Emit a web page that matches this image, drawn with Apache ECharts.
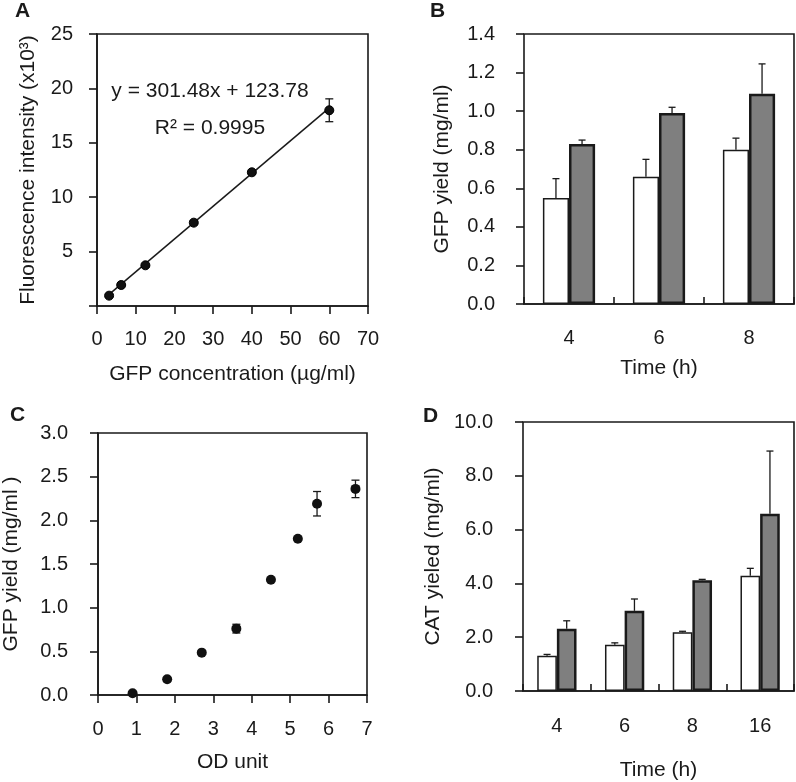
<!DOCTYPE html>
<html>
<head>
<meta charset="utf-8">
<script src="https://cdn.jsdelivr.net/npm/echarts@6/dist/echarts.min.js"></script>
<style>
html,body{margin:0;padding:0;background:#fff;}
#chart{width:796px;height:782px;}
</style>
</head>
<body>
<div id="chart"></div>
<script>
// ---- Panel A: standard curve ----
const A_x = [3.125, 6.25, 12.5, 25, 40, 60];
const A_y = [0.95, 1.93, 3.74, 7.66, 12.29, 17.99];
const A_err = [0.15, 0.15, 0.15, 0.2, 0.2, 1.05];
const A_fitX = [3.125, 60];
const A_fitY = [1.07, 18.21];
const A_xTicks = [0, 10, 20, 30, 40, 50, 60, 70];
const A_yTicks = [0, 5, 10, 15, 20, 25];
const A_eq = 'y = 301.48x + 123.78';
const A_r2 = 'R² = 0.9995';

// ---- Panel B: GFP yield vs time ----
const B_cats = ['4', '6', '8'];
const B_white = [0.55, 0.66, 0.80];
const B_whiteErr = [0.10, 0.09, 0.06];
const B_grey = [0.83, 0.99, 1.09];
const B_greyErr = [0.02, 0.03, 0.155];

// ---- Panel C: GFP yield vs OD ----
const C_x = [0.9, 1.8, 2.7, 3.6, 4.5, 5.2, 5.7, 6.7];
const C_y = [0.02, 0.18, 0.485, 0.76, 1.32, 1.79, 2.19, 2.36];
const C_err = [0, 0, 0, 0.05, 0, 0, 0.14, 0.10];

// ---- Panel D: CAT yield vs time ----
const D_cats = ['4', '6', '8', '16'];
const D_white = [1.31, 1.72, 2.18, 4.28];
const D_whiteErr = [0.05, 0.07, 0.04, 0.28];
const D_grey = [2.31, 2.98, 4.12, 6.59];
const D_greyErr = [0.30, 0.44, 0.03, 2.33];

const FONT = "'Liberation Sans', Arial, Helvetica, sans-serif";
const INK = '#1a1a1a';
const GREY = '#7f7f7f';
const LW = 1.6;

function zipXY(xs, ys) { return xs.map((x, i) => [x, ys[i]]); }
function zipErr(xs, ys, es) { return xs.map((x, i) => [x, ys[i], es[i]]); }

function errRenderSym(cap) {
  return function (params, api) {
    const x = api.value(0), y = api.value(1), e = api.value(2);
    if (!e) return null;
    const hi = api.coord([x, y + e]);
    const lo = api.coord([x, y - e]);
    const st = { stroke: INK, lineWidth: 1.3 };
    return { type: 'group', children: [
      { type: 'line', shape: { x1: hi[0], y1: hi[1], x2: lo[0], y2: lo[1] }, style: st },
      { type: 'line', shape: { x1: hi[0] - cap, y1: hi[1], x2: hi[0] + cap, y2: hi[1] }, style: st },
      { type: 'line', shape: { x1: lo[0] - cap, y1: lo[1], x2: lo[0] + cap, y2: lo[1] }, style: st }
    ]};
  };
}

function errRenderBar(side, gapRatio, cap) {
  return function (params, api) {
    const i = api.value(0), y = api.value(1), e = api.value(2);
    const c = api.coord([i, y]);
    const hi = api.coord([i, y + e]);
    const band = api.size([1, 0])[0];
    const bw = band * (1 - gapRatio) / 2;
    const x = c[0] + side * bw / 2;
    const st = { stroke: INK, lineWidth: 1.3 };
    return { type: 'group', children: [
      { type: 'line', shape: { x1: x, y1: c[1], x2: x, y2: hi[1] }, style: st },
      { type: 'line', shape: { x1: x - cap, y1: hi[1], x2: x + cap, y2: hi[1] }, style: st }
    ]};
  };
}

const tickLabel = { color: INK, fontSize: 20, fontFamily: FONT };
const nameStyle = { color: INK, fontSize: 21, fontFamily: FONT };
const axLine = { lineStyle: { color: INK, width: LW } };

function gridBox(left, right, top, bottom) {
  return { left, right, top, bottom, show: true, borderColor: INK, borderWidth: LW, backgroundColor: 'transparent', containLabel: false };
}

const GAP = 0.42;

const option = {
  animation: false,
  backgroundColor: '#fff',
  textStyle: { fontFamily: FONT },
  grid: [
    gridBox(97, 428, 34, 476),
    gridBox(524, 2, 34, 478),
    gridBox(98, 429, 433, 87),
    gridBox(523, 2, 422, 90)
  ],
  xAxis: [
    { gridIndex: 0, type: 'value', min: 0, max: 70, interval: 10,
      name: 'GFP concentration (µg/ml)', nameLocation: 'middle', nameGap: 58, nameTextStyle: nameStyle,
      axisLine: axLine, axisTick: { show: true, length: 8, lineStyle: { color: INK, width: LW } },
      axisLabel: Object.assign({ margin: 23 }, tickLabel), splitLine: { show: false } },
    { gridIndex: 1, type: 'category', data: B_cats,
      name: 'Time (h)', nameLocation: 'middle', nameGap: 54, nameTextStyle: nameStyle,
      axisLine: axLine, axisTick: { show: true, inside: true, length: 7, alignWithLabel: false, lineStyle: { color: INK, width: LW } },
      axisLabel: Object.assign({ margin: 24 }, tickLabel) },
    { gridIndex: 2, type: 'value', min: 0, max: 7, interval: 1,
      name: 'OD unit', nameLocation: 'middle', nameGap: 57, nameTextStyle: nameStyle,
      axisLine: axLine, axisTick: { show: true, length: 8, lineStyle: { color: INK, width: LW } },
      axisLabel: Object.assign({ margin: 24 }, tickLabel), splitLine: { show: false } },
    { gridIndex: 3, type: 'category', data: D_cats,
      name: 'Time (h)', nameLocation: 'middle', nameGap: 69, nameTextStyle: nameStyle,
      axisLine: axLine, axisTick: { show: true, inside: true, length: 7, alignWithLabel: false, lineStyle: { color: INK, width: LW } },
      axisLabel: Object.assign({ margin: 25 }, tickLabel) }
  ],
  yAxis: [
    { gridIndex: 0, type: 'value', min: 0, max: 25, interval: 5,
      name: 'Fluorescence intensity (x10³)', nameLocation: 'middle', nameGap: 58, nameTextStyle: nameStyle,
      axisLine: axLine, axisTick: { show: true, length: 8, lineStyle: { color: INK, width: LW } },
      axisLabel: Object.assign({ margin: 24, formatter: v => v === 0 ? '' : String(v) }, tickLabel), splitLine: { show: false } },
    { gridIndex: 1, type: 'value', min: 0, max: 1.4, interval: 0.2,
      name: 'GFP yield (mg/ml)', nameLocation: 'middle', nameGap: 71, nameTextStyle: nameStyle,
      axisLine: axLine, axisTick: { show: true, length: 8, lineStyle: { color: INK, width: LW } },
      axisLabel: Object.assign({ margin: 29, formatter: v => v.toFixed(1) }, tickLabel), splitLine: { show: false } },
    { gridIndex: 2, type: 'value', min: 0, max: 3, interval: 0.5,
      name: 'GFP yield (mg/ml )', nameLocation: 'middle', nameGap: 76, nameTextStyle: nameStyle,
      axisLine: axLine, axisTick: { show: true, length: 8, lineStyle: { color: INK, width: LW } },
      axisLabel: Object.assign({ margin: 30, formatter: v => v.toFixed(1) }, tickLabel), splitLine: { show: false } },
    { gridIndex: 3, type: 'value', min: 0, max: 10, interval: 2,
      name: 'CAT yieled (mg/ml)', nameLocation: 'middle', nameGap: 79, nameTextStyle: nameStyle,
      axisLine: axLine, axisTick: { show: true, length: 8, lineStyle: { color: INK, width: LW } },
      axisLabel: Object.assign({ margin: 30, formatter: v => v.toFixed(1) }, tickLabel), splitLine: { show: false } }
  ],
  series: [
    // A
    { type: 'line', xAxisIndex: 0, yAxisIndex: 0, data: zipXY(A_fitX, A_fitY), symbol: 'none',
      lineStyle: { color: INK, width: 1.5 }, z: 2 },
    { type: 'custom', xAxisIndex: 0, yAxisIndex: 0, data: zipErr(A_x, A_y, A_err), renderItem: errRenderSym(4), z: 3 },
    { type: 'scatter', xAxisIndex: 0, yAxisIndex: 0, data: zipXY(A_x, A_y), symbol: 'circle', symbolSize: 9,
      itemStyle: { color: '#111', borderColor: '#000', borderWidth: 1, opacity: 1 }, z: 4 },
    // B
    { type: 'bar', xAxisIndex: 1, yAxisIndex: 1, data: B_white, barGap: '0%', barCategoryGap: (GAP * 100) + '%',
      itemStyle: { color: '#fff', borderColor: INK, borderWidth: 1.5 }, z: 2 },
    { type: 'bar', xAxisIndex: 1, yAxisIndex: 1, data: B_grey, barGap: '0%', barCategoryGap: (GAP * 100) + '%',
      itemStyle: { color: GREY, borderColor: INK, borderWidth: 2.5 }, z: 2 },
    { type: 'custom', xAxisIndex: 1, yAxisIndex: 1, data: B_white.map((v, i) => [i, v, B_whiteErr[i]]), renderItem: errRenderBar(-1, GAP, 3.5), z: 3 },
    { type: 'custom', xAxisIndex: 1, yAxisIndex: 1, data: B_grey.map((v, i) => [i, v, B_greyErr[i]]), renderItem: errRenderBar(1, GAP, 3.5), z: 3 },
    // C
    { type: 'custom', xAxisIndex: 2, yAxisIndex: 2, data: zipErr(C_x, C_y, C_err), renderItem: errRenderSym(4), z: 3 },
    { type: 'scatter', xAxisIndex: 2, yAxisIndex: 2, data: zipXY(C_x, C_y), symbol: 'circle', symbolSize: 10,
      itemStyle: { color: '#111', opacity: 1 }, z: 4 },
    // D
    { type: 'bar', xAxisIndex: 3, yAxisIndex: 3, data: D_white, barGap: '0%', barCategoryGap: (GAP * 100) + '%',
      itemStyle: { color: '#fff', borderColor: INK, borderWidth: 1.5 }, z: 2 },
    { type: 'bar', xAxisIndex: 3, yAxisIndex: 3, data: D_grey, barGap: '0%', barCategoryGap: (GAP * 100) + '%',
      itemStyle: { color: GREY, borderColor: INK, borderWidth: 2.5 }, z: 2 },
    { type: 'custom', xAxisIndex: 3, yAxisIndex: 3, data: D_white.map((v, i) => [i, v, D_whiteErr[i]]), renderItem: errRenderBar(-1, GAP, 3.5), z: 3 },
    { type: 'custom', xAxisIndex: 3, yAxisIndex: 3, data: D_grey.map((v, i) => [i, v, D_greyErr[i]]), renderItem: errRenderBar(1, GAP, 3.5), z: 3 }
  ],
  graphic: [
    { type: 'text', left: 15, top: 1, style: { text: 'A', font: 'bold 21px ' + FONT, fill: INK } },
    { type: 'text', left: 430, top: 1, style: { text: 'B', font: 'bold 21px ' + FONT, fill: INK } },
    { type: 'text', left: 10, top: 405, style: { text: 'C', font: 'bold 21px ' + FONT, fill: INK } },
    { type: 'text', left: 423, top: 406, style: { text: 'D', font: 'bold 21px ' + FONT, fill: INK } },
    { type: 'text', x: 210, y: 91, style: { text: A_eq, font: '21px ' + FONT, fill: INK, textAlign: 'center', textVerticalAlign: 'middle' } },
    { type: 'text', x: 210, y: 128, style: { text: A_r2, font: '21px ' + FONT, fill: INK, textAlign: 'center', textVerticalAlign: 'middle' } }
  ]
};

const chart = echarts.init(document.getElementById('chart'), null, { renderer: 'canvas' });
chart.setOption(option);
</script>
</body>
</html>
